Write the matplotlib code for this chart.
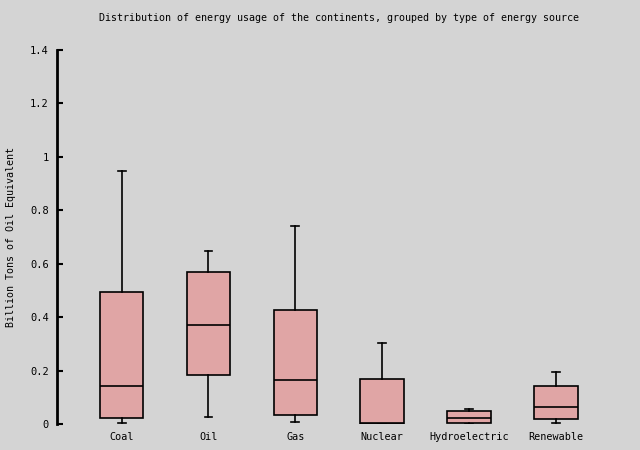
import matplotlib.pyplot as plt

# Box statistics (billion tons of oil equivalent)
categories = ["Coal", "Oil", "Gas", "Nuclear", "Hydroelectric", "Renewable"]
whislo = [0.003, 0.025, 0.006, 0.000, 0.000, 0.003]
q1 = [0.022, 0.182, 0.033, 0.000, 0.003, 0.018]
med = [0.141, 0.370, 0.164, 0.003, 0.021, 0.062]
q3 = [0.493, 0.568, 0.426, 0.167, 0.047, 0.141]
whishi = [0.946, 0.647, 0.740, 0.302, 0.057, 0.194]

bg = "#d4d4d4"
box_color = "#e0a5a5"
font = "DejaVu Sans Mono"

stats = []
for i, name in enumerate(categories):
    stats.append({"label": name, "whislo": whislo[i], "q1": q1[i], "med": med[i],
                  "q3": q3[i], "whishi": whishi[i], "fliers": []})

fig = plt.figure(figsize=(6.4, 4.5), dpi=100, facecolor=bg)
ax = fig.add_axes([57 / 640, 26 / 450, (621 - 57) / 640, (424 - 50) / 450])
ax.set_facecolor(bg)

ax.bxp(stats, positions=range(1, len(categories) + 1), widths=0.5, capwidths=0.09,
       showfliers=False, patch_artist=True,
       boxprops=dict(facecolor=box_color, edgecolor="black", linewidth=1.2),
       medianprops=dict(color="black", linewidth=1.2),
       whiskerprops=dict(color="black", linewidth=1.2),
       capprops=dict(color="black", linewidth=1.2))

ax.set_xlim(0.256, 6.75)
ax.set_ylim(0, 1.4)
ax.set_yticks([0, 0.2, 0.4, 0.6, 0.8, 1, 1.2, 1.4])
ax.set_yticklabels(["0", "0.2", "0.4", "0.6", "0.8", "1", "1.2", "1.4"])
for s in ["top", "right", "bottom"]:
    ax.spines[s].set_visible(False)
ax.spines["left"].set_linewidth(2)
ax.tick_params(axis="y", direction="in", length=4, width=1.5, labelsize=7.5, pad=6)
ax.tick_params(axis="x", length=0, labelsize=7.3, pad=6)
for lab in ax.get_xticklabels() + ax.get_yticklabels():
    lab.set_fontfamily(font)

ax.set_ylabel("Billion Tons of Oil Equivalent", fontsize=7.2, fontfamily=font, labelpad=10)
fig.text(339 / 640, 1 - 18 / 450,
         "Distribution of energy usage of the continents, grouped by type of energy source",
         ha="center", va="center", fontsize=7.2, fontfamily=font)

fig.savefig("out.png", dpi=100, facecolor=bg)
